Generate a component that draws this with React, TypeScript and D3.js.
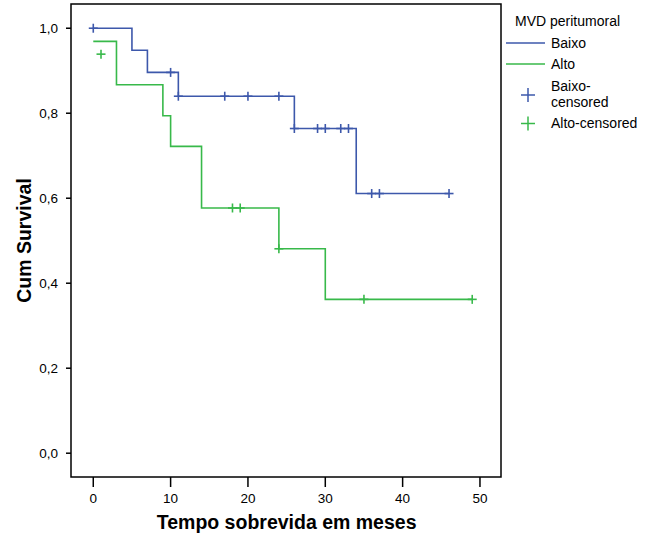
import * as d3 from "d3";

// Kaplan-Meier steps, group "Baixo"
const baixoStepTimes = [0, 5, 7, 11, 26, 34, 46];
const baixoStepSurv = [1.0, 0.948, 0.896, 0.84, 0.764, 0.611, 0.611];
const baixoCensorTimes = [0, 10, 11, 17, 20, 24, 26, 29, 30, 32, 33, 36, 37, 46];
const baixoCensorSurv = [1.0, 0.896, 0.84, 0.84, 0.84, 0.84, 0.764, 0.764, 0.764, 0.764, 0.764, 0.611, 0.611, 0.611];

// group "Alto"
const altoStepTimes = [0, 3, 9, 10, 14, 24, 30, 49];
const altoStepSurv = [0.969, 0.867, 0.794, 0.722, 0.577, 0.481, 0.362, 0.362];
const altoCensorTimes = [1, 18, 19, 24, 35, 49];
const altoCensorSurv = [0.939, 0.577, 0.577, 0.481, 0.362, 0.362];

const xTicks = [0, 10, 20, 30, 40, 50];
const yTicks = [0, 0.2, 0.4, 0.6, 0.8, 1.0];

const legendTitle = "MVD peritumoral";
const blue = "#3d58ab";
const green = "#38b94a";

const width = 645;
const height = 539;
const frame = { left: 71, top: 4, right: 501, bottom: 477 };

const x = d3.scaleLinear().domain([-2.88, 52.72]).range([frame.left, frame.right]);
const y = d3.scaleLinear().domain([-0.056, 1.057]).range([frame.bottom, frame.top]);

const stepLine = d3
  .line<[number, number]>()
  .x((d) => x(d[0]))
  .y((d) => y(d[1]))
  .curve(d3.curveStepAfter);

const font = "'Liberation Sans', Arial, sans-serif";

function Censors({ times, surv, color }: { times: number[]; surv: number[]; color: string }) {
  return (
    <g stroke={color} strokeWidth={1.6}>
      {times.map((t, i) => (
        <g key={i} transform={`translate(${x(t)},${y(surv[i])})`}>
          <line x1={-4.5} x2={4.5} y1={0} y2={0} />
          <line x1={0} x2={0} y1={-4.5} y2={4.5} />
        </g>
      ))}
    </g>
  );
}

function LegendCross({ cx, cy, color }: { cx: number; cy: number; color: string }) {
  return (
    <g stroke={color} strokeWidth={1.5}>
      <line x1={cx - 7} x2={cx + 7} y1={cy} y2={cy} />
      <line x1={cx} x2={cx} y1={cy - 7} y2={cy + 7} />
    </g>
  );
}

export default function App() {
  const baixoPts = baixoStepTimes.map((t, i) => [t, baixoStepSurv[i]] as [number, number]);
  const altoPts = altoStepTimes.map((t, i) => [t, altoStepSurv[i]] as [number, number]);

  return (
    <svg
      width={width}
      height={height}
      style={{ position: "absolute", left: 0, top: 0, background: "#fff" }}
      fontFamily={font}
    >
      <rect
        x={frame.left}
        y={frame.top}
        width={frame.right - frame.left}
        height={frame.bottom - frame.top}
        fill="none"
        stroke="#000"
        strokeWidth={1.5}
      />

      {/* y axis */}
      {yTicks.map((v) => (
        <g key={v}>
          <line x1={frame.left - 5} x2={frame.left} y1={y(v)} y2={y(v)} stroke="#000" strokeWidth={1.5} />
          <text x={frame.left - 13} y={y(v)} dy="0.35em" textAnchor="end" fontSize={13.5}>
            {v.toFixed(1).replace(".", ",")}
          </text>
        </g>
      ))}
      <text
        transform={`translate(31,${(frame.top + frame.bottom) / 2}) rotate(-90)`}
        textAnchor="middle"
        fontSize={19.5}
        fontWeight="bold"
      >
        Cum Survival
      </text>

      {/* x axis */}
      {xTicks.map((v) => (
        <g key={v}>
          <line x1={x(v)} x2={x(v)} y1={frame.bottom} y2={frame.bottom + 10} stroke="#000" strokeWidth={1.5} />
          <text x={x(v)} y={frame.bottom + 26} textAnchor="middle" fontSize={13.5}>
            {v}
          </text>
        </g>
      ))}
      <text x={x(25)} y={529} textAnchor="middle" fontSize={19.5} fontWeight="bold">
        Tempo sobrevida em meses
      </text>

      <path d={stepLine(altoPts) ?? ""} fill="none" stroke={green} strokeWidth={1.6} />
      <path d={stepLine(baixoPts) ?? ""} fill="none" stroke={blue} strokeWidth={1.6} />
      <Censors times={altoCensorTimes} surv={altoCensorSurv} color={green} />
      <Censors times={baixoCensorTimes} surv={baixoCensorSurv} color={blue} />

      {/* legend */}
      <g fontSize={14}>
        <text x={515} y={26}>{legendTitle}</text>
        <line x1={506} x2={545} y1={43} y2={43} stroke={blue} strokeWidth={1.5} />
        <text x={551} y={48}>Baixo</text>
        <line x1={506} x2={545} y1={64} y2={64} stroke={green} strokeWidth={1.5} />
        <text x={551} y={69}>Alto</text>
        <LegendCross cx={528} cy={95} color={blue} />
        <text x={551} y={91}>Baixo-</text>
        <text x={551} y={107}>censored</text>
        <LegendCross cx={528} cy={123.5} color={green} />
        <text x={551} y={128}>Alto-censored</text>
      </g>
    </svg>
  );
}
